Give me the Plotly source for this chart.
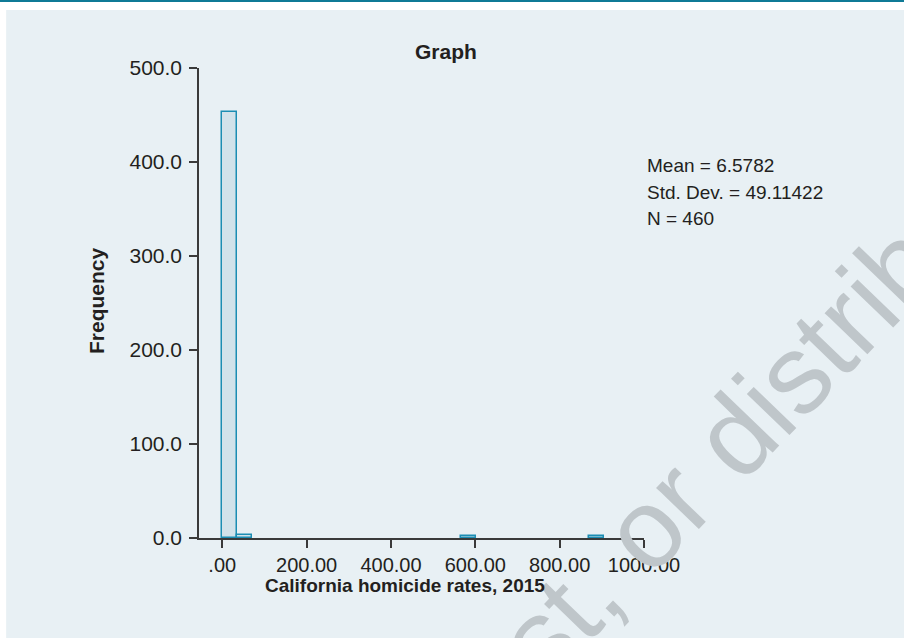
import plotly.graph_objects as go

# ---- data ----
bin_starts = [0.0, 35.5, 566.0, 869.5]
bin_width = 35.5
counts = [453, 3, 2, 2]
x_tickvals = [0, 200, 400, 600, 800, 1000]
x_ticktext = [".00", "200.00", "400.00", "600.00", "800.00", "1000.00"]
y_tickvals = [0, 100, 200, 300, 400, 500]
y_ticktext = ["0.0", "100.0", "200.0", "300.0", "400.0", "500.0"]
stats_lines = ["Mean = 6.5782", "Std. Dev. = 49.11422", "N = 460"]
title_text = "Graph"
x_title = "California homicide rates, 2015"
y_title = "Frequency"
watermark = "Do not copy, post, or distribute"

FONT = "Liberation Sans, Arial, Helvetica, sans-serif"
TXT = "#231f20"
PANEL = "#e8f0f4"
AXIS = "#3a3a3a"

centers = [s + bin_width / 2 for s in bin_starts]

fig = go.Figure()
fig.add_trace(go.Bar(
    x=centers, y=counts, width=[bin_width] * len(counts),
    marker=dict(color="#d1e2ea", line=dict(color="#1b8db3", width=1.5)),
    hoverinfo="x+y", showlegend=False,
))

# pixel helpers for layout in paper coords
L, R, T, B = 199, 644.3, 68, 538.2
W, H = R - L, B - T
def px(x):
    return (x - L) / W
def py(y):
    return (B - y) / H

fig.update_layout(
    width=904, height=638,
    margin=dict(l=L, r=904 - R, t=T, b=638 - B, pad=0),
    paper_bgcolor="white",
    plot_bgcolor=PANEL,
    font=dict(family=FONT, color=TXT, size=20),
    bargap=0,
    xaxis=dict(
        range=[-55.2, 1000], tickvals=x_tickvals, ticktext=x_ticktext,
        showline=True, linecolor=AXIS, linewidth=1.5,
        ticks="outside", ticklen=8, tickcolor=AXIS, tickwidth=1.5,
        showgrid=False, zeroline=False, fixedrange=True,
        tickfont=dict(size=20, color=TXT), ticklabelstandoff=0,
    ),
    yaxis=dict(
        range=[0, 500], tickvals=y_tickvals, ticktext=y_ticktext,
        showline=True, linecolor=AXIS, linewidth=1.5,
        ticks="outside", ticklen=8, tickcolor=AXIS, tickwidth=1.5,
        showgrid=False, zeroline=False, fixedrange=True,
        tickfont=dict(size=21, color=TXT), ticklabelstandoff=3,
    ),
    shapes=[
        dict(type="rect", xref="paper", yref="paper", layer="below",
             x0=px(6), x1=px(910), y0=py(645), y1=py(10),
             fillcolor=PANEL, line=dict(width=0)),
        dict(type="rect", xref="paper", yref="paper", layer="above",
             x0=px(-5), x1=px(910), y0=py(2), y1=py(0),
             fillcolor="#0f7a96", line=dict(width=0)),
    ],
)

ann = []
ann.append(dict(text=watermark, xref="paper", yref="paper", x=px(505), y=py(675),
                showarrow=False, textangle=-46, xanchor="center", yanchor="middle",
                font=dict(family=FONT, size=112, color="#bfc6ca")))
ann.append(dict(text="<b>%s</b>" % title_text, xref="paper", yref="paper",
                x=px(446), y=py(51.5), showarrow=False, xanchor="center", yanchor="middle",
                font=dict(family=FONT, size=21, color=TXT)))
ann.append(dict(text="<b>%s</b>" % x_title, xref="paper", yref="paper",
                x=px(405), y=py(586), showarrow=False, xanchor="center", yanchor="middle",
                font=dict(family=FONT, size=19, color=TXT)))
ann.append(dict(text="<b>%s</b>" % y_title, xref="paper", yref="paper",
                x=px(97), y=py(301), showarrow=False, xanchor="center", yanchor="middle",
                textangle=-90, font=dict(family=FONT, size=21, color=TXT)))
for i, (line, yc) in enumerate(zip(stats_lines, [166, 193, 219])):
    ann.append(dict(text=line, xref="paper", yref="paper", x=px(645), y=py(yc),
                    showarrow=False, xanchor="left", yanchor="middle",
                    font=dict(family=FONT, size=19, color=TXT)))
fig.update_layout(annotations=ann)

fig.write_html("out.html")
